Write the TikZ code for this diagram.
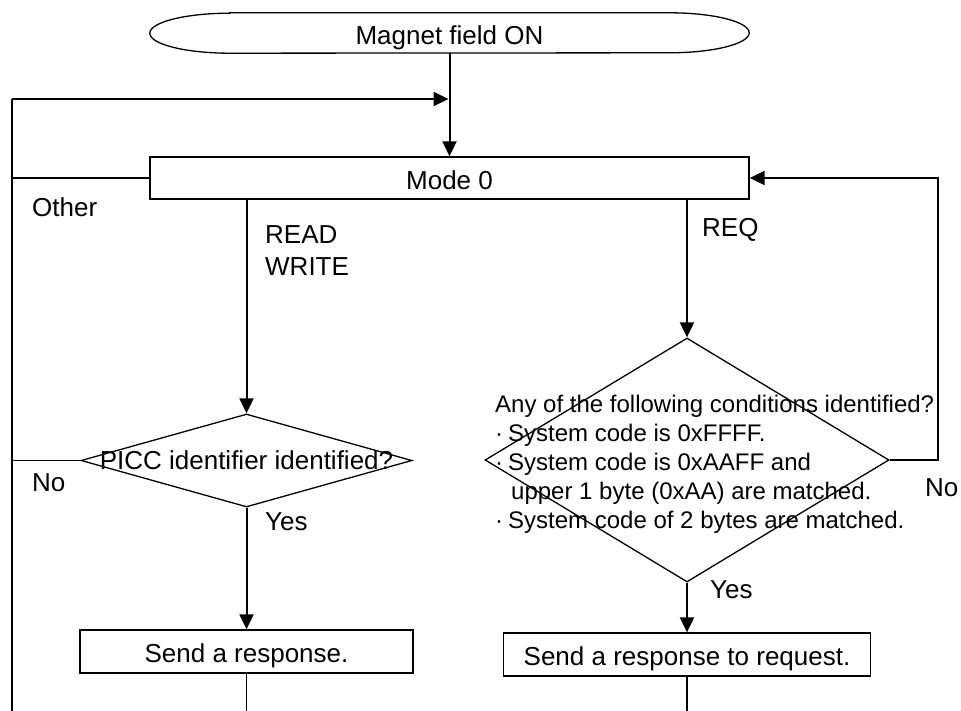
\documentclass[tikz,border=0pt]{standalone}
\usepackage{fontspec}
\setmainfont{Liberation Sans}
\usetikzlibrary{shapes,arrows.meta,positioning,calc}

\begin{document}
\begin{tikzpicture}[x=1pt,y=-1pt,
  font=\fontsize{26}{31}\selectfont,
  terminal/.style={rectangle,inner sep=0pt,minimum width=599pt,minimum height=40pt,text height=28pt,text depth=5.5pt},
  process/.style={draw,rectangle,line width=1.3pt,inner sep=0pt,minimum height=43pt,text height=28pt,text depth=5.5pt},
  decision/.style={draw,diamond,line width=1.3pt,inner sep=0pt},
  flow/.style={line width=2pt,-{Triangle[length=15pt,width=14pt]}},
  link/.style={line width=1.3pt},
  tag/.style={anchor=west,inner sep=0pt}]
\useasboundingbox (0,0) rectangle (961,711);

% Boxes
\node[terminal] (start) at (449.5,33) {Magnet field ON};
\draw[link] ($(start.north west)+(80,0)$) -- ($(start.north east)-(80,0)$)
  arc[x radius=80pt,y radius=20pt,start angle=90,end angle=-90]
  -- ($(start.south west)+(80,0)$)
  arc[x radius=80pt,y radius=20pt,start angle=270,end angle=90] -- cycle;
\node[process,minimum width=599pt,minimum height=42pt] (mode) at (449.5,178) {Mode 0};
\node[decision,minimum width=331pt,minimum height=93pt,label={center:PICC identifier identified?}] (picc) at (246.5,460.5) {};
\node[decision,minimum width=404pt,minimum height=244pt] (cond) at (687,460) {};
\node[process,minimum width=333pt] (resp) at (246.5,651.5) {Send a response.};
\node[process,minimum width=367pt] (reqresp) at (687,654.5) {Send a response to request.};

% Condition text
\node[tag,align=left,font=\fontsize{24}{29}\selectfont] (condtext) at (495,464)
  {Any of the following conditions identified?\\
   ·\hspace{5pt}System code is 0xFFFF.\\
   ·\hspace{5pt}System code is 0xAAFF and\\
   \hspace*{16pt}upper 1 byte (0xAA) are matched.\\
   ·\hspace{5pt}System code of 2 bytes are matched.};

% Return line
\coordinate (loop) at (12,99);
\coordinate (bot) at (12,711);
\coordinate (ret) at (938,178);

% Connectors
\draw[flow] (start) -- (mode);
\draw[link] (bot) -- (loop);
\draw[flow,shorten >=1pt] (loop) -- (loop -| start.south);
\draw[link] (mode.west) -- (mode.west -| loop);
\draw[link] (picc.west) -- (picc.west -| loop);
\draw[flow] (picc.north |- mode.south) -- (picc.north);
\draw[flow] (cond.north |- mode.south) -- (cond.north);
\draw[flow] (cond.east) -| (ret) -- (mode.east);
\draw[flow] (picc.south) -- (resp.north);
\draw[flow] (cond.south) -- (reqresp.north);
\draw[link] (resp.south) -- (resp.south |- bot);
\draw[link] (reqresp.south) -- (reqresp.south |- bot);

% Labels
\node[tag] (other) at (32,207) {Other};
\node[tag,align=left,font=\fontsize{26}{32}\selectfont] (rw) at (265,251) {READ\\WRITE};
\node[tag] (req) at (702,230) {REQ};
\node[tag] (nopicc) at (32,483) {No};
\node[tag] (yespicc) at (265,522) {Yes};
\node[tag] (nocond) at (925,488) {No};
\node[tag] (yescond) at (710,590) {Yes};
\end{tikzpicture}
\end{document}
